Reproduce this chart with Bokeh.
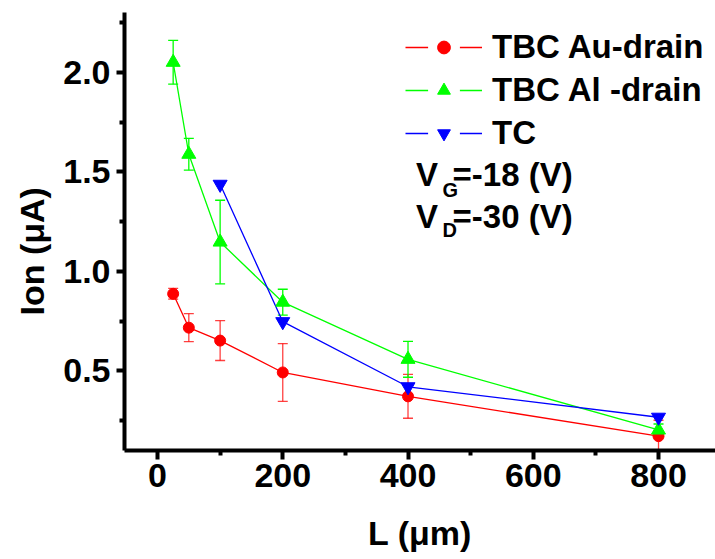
from bokeh.plotting import figure
from bokeh.models import (Range1d, FixedTicker, Whisker, ColumnDataSource, Legend,
                          LegendItem, Label, TeeHead, Title)
from bokeh.embed import file_html
from bokeh.resources import INLINE

# ---- data ----
au_x = [25, 50, 100, 200, 400, 800]
au_y = [0.887, 0.717, 0.652, 0.492, 0.372, 0.172]
au_err = [0.027, 0.07, 0.1, 0.145, 0.11, 0.08]

al_x = [25, 50, 100, 200, 400, 800]
al_y = [2.05, 1.588, 1.147, 0.845, 0.558, 0.203]
al_err = [0.11, 0.08, 0.21, 0.065, 0.09, 0.03]

tc_x = [100, 200, 400, 800]
tc_y = [1.437, 0.747, 0.42, 0.267]

x_ticks = [0, 200, 400, 600, 800]
x_minor = [100, 300, 500, 700]
y_ticks = [0.5, 1.0, 1.5, 2.0]
y_tick_labels = ["0.5", "1.0", "1.5", "2.0"]
y_minor = [0.25, 0.75, 1.25, 1.75, 2.25]

labels = ["TBC Au-drain", "TBC Al -drain", "TC"]
RED, GREEN, BLUE = "#ff0000", "#00ff00", "#0000ff"
FONT = "Liberation Sans"

p = figure(width=715, height=559, output_backend="svg", toolbar_location=None,
           x_range=Range1d(-52.7, 891), y_range=Range1d(0.1, 2.3),
           min_border_left=124, min_border_right=0, min_border_top=12, min_border_bottom=109)
p.outline_line_color = None
p.xgrid.visible = False
p.ygrid.visible = False
p.background_fill_color = "white"

for ax in (p.xaxis[0], p.yaxis[0]):
    ax.axis_line_width = 4
    ax.major_tick_line_width = 4
    ax.minor_tick_line_width = 4
    ax.major_tick_in = 0
    ax.minor_tick_in = 0
    ax.major_label_text_font = FONT
    ax.major_label_text_font_style = "bold"
    ax.major_label_text_font_size = "34px"
    ax.major_label_text_color = "black"
    ax.axis_label_text_font = FONT
    ax.axis_label_text_font_style = "bold"
    ax.axis_label_text_font_size = "34px"
    ax.axis_label_text_color = "black"

p.xaxis.ticker = FixedTicker(ticks=x_ticks, minor_ticks=x_minor)
p.yaxis.ticker = FixedTicker(ticks=y_ticks, minor_ticks=y_minor)
p.yaxis.major_label_overrides = {t: l for t, l in zip(y_ticks, y_tick_labels)}
p.xaxis.major_tick_out = 9
p.xaxis.minor_tick_out = 5
p.yaxis.major_tick_out = 8
p.yaxis.minor_tick_out = 5
p.xaxis.major_label_standoff = 4
p.yaxis.major_label_standoff = 6
p.xaxis.axis_label = "L (μm)"
p.xaxis.axis_label_standoff = 24

# y-axis title, placed lower than centre as in the original
ytitle = Title(text="Ion (μA)", align="left", offset=135, standoff=19,
               text_font=FONT, text_font_style="bold", text_font_size="34px",
               text_color="black")
p.add_layout(ytitle, "left")

# error bars
au_src = ColumnDataSource(dict(x=au_x, y=au_y,
                               lo=[v - e for v, e in zip(au_y, au_err)],
                               hi=[v + e for v, e in zip(au_y, au_err)]))
al_src = ColumnDataSource(dict(x=al_x, y=al_y,
                               lo=[v - e for v, e in zip(al_y, al_err)],
                               hi=[v + e for v, e in zip(al_y, al_err)]))
tc_src = ColumnDataSource(dict(x=tc_x, y=tc_y))

for src, col, alpha in ((au_src, RED, 0.75), (al_src, GREEN, 1.0)):
    w = Whisker(source=src, base="x", upper="hi", lower="lo", line_color=col,
                line_width=1.3, line_alpha=alpha,
                upper_head=TeeHead(size=10, line_color=col, line_width=1.3, line_alpha=alpha),
                lower_head=TeeHead(size=10, line_color=col, line_width=1.3, line_alpha=alpha))
    p.add_layout(w)

r_au_l = p.line("x", "y", source=au_src, line_color=RED, line_width=1.3)
r_al_l = p.line("x", "y", source=al_src, line_color=GREEN, line_width=1.3)
r_tc_l = p.line("x", "y", source=tc_src, line_color=BLUE, line_width=1.3)
r_au_m = p.scatter("x", "y", source=au_src, marker="circle", size=11,
                   fill_color=RED, line_color=RED)
r_al_m = p.scatter("x", "y", source=al_src, marker="triangle", size=14,
                   fill_color=GREEN, line_color=GREEN)
r_tc_m = p.scatter("x", "y", source=tc_src, marker="inverted_triangle", size=14,
                   fill_color=BLUE, line_color=BLUE)

# white patch used only in the legend (its point lies outside the ranges) to open
# a gap in the legend line around each marker
gap_src = ColumnDataSource(dict(x=[-10000], y=[-10000]))
r_gap = p.scatter("x", "y", source=gap_src, marker="square", size=30,
                  fill_color="white", line_color="white", line_width=19)

legend = Legend(items=[LegendItem(label=labels[0], renderers=[r_au_l, r_gap, r_au_m]),
                       LegendItem(label=labels[1], renderers=[r_al_l, r_gap, r_al_m]),
                       LegendItem(label=labels[2], renderers=[r_tc_l, r_gap, r_tc_m])],
                location=(281, 298), padding=0, margin=0, spacing=5,
                glyph_width=77, glyph_height=32, label_standoff=10,
                border_line_color=None, background_fill_alpha=0,
                label_text_font=FONT, label_text_font_style="bold",
                label_text_font_size="33px", label_text_color="black")
p.add_layout(legend, "center")

def lab(x, y, t, size):
    p.add_layout(Label(x=x, y=y, text=t, text_font=FONT, text_font_style="bold",
                       text_font_size=size, text_baseline="middle", text_color="black"))

lab(412.8, 1.485, "V", "33px")
lab(455.2, 1.41, "G", "20px")
lab(471.2, 1.485, "=-18 (V)", "33px")
lab(412.8, 1.275, "V", "33px")
lab(455.2, 1.21, "D", "20px")
lab(471.2, 1.275, "=-30 (V)", "33px")

open("out.html", "w").write(file_html(p, INLINE))
